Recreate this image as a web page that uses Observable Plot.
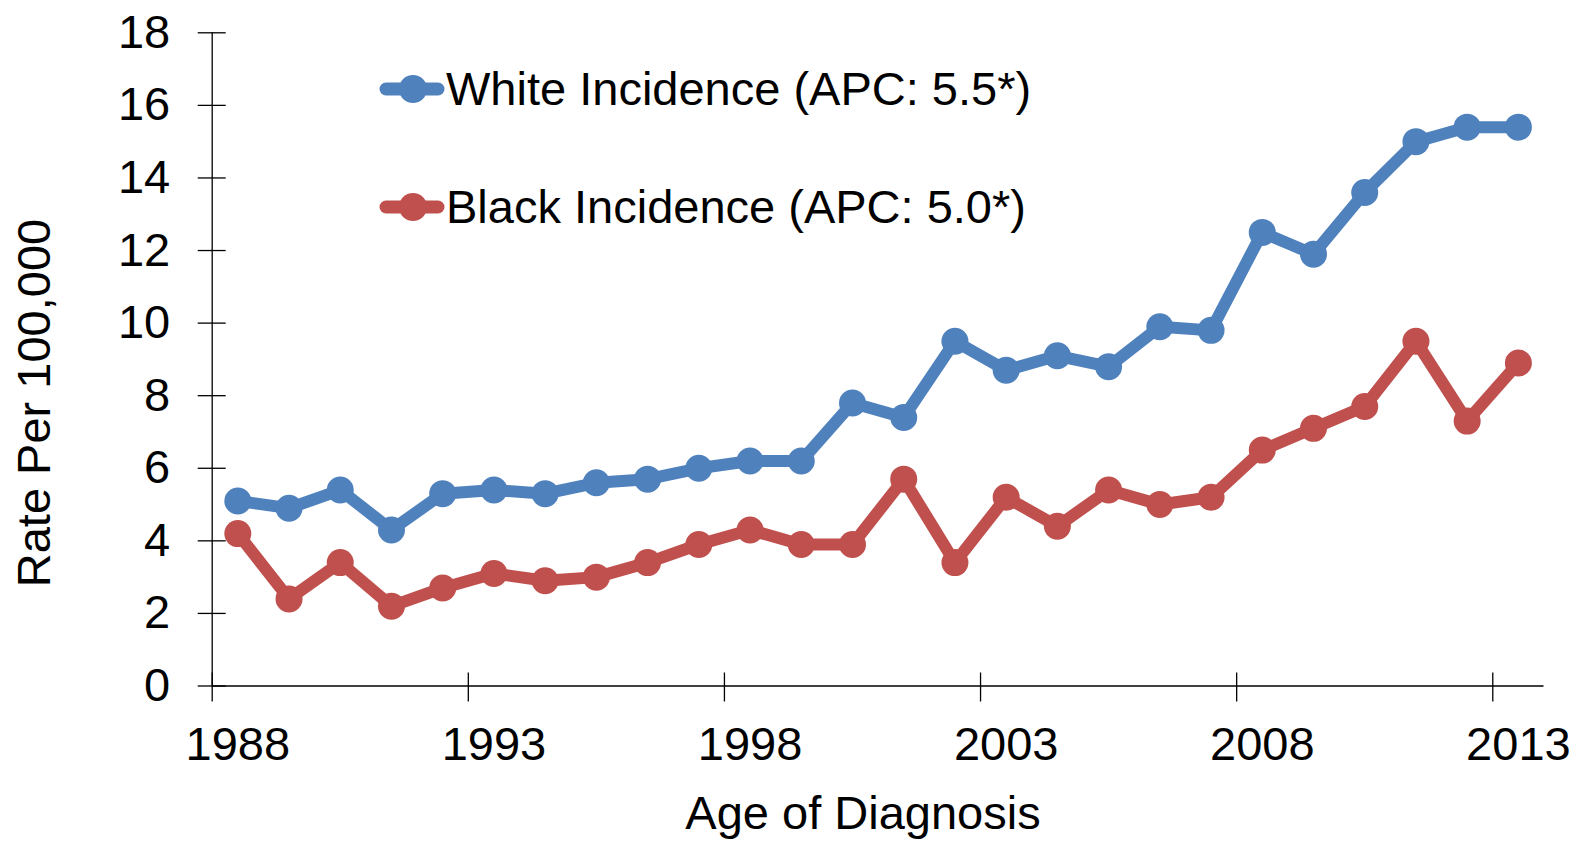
<!DOCTYPE html>
<html>
<head>
<meta charset="utf-8">
<script src="https://cdn.jsdelivr.net/npm/d3@7"></script>
<script src="https://cdn.jsdelivr.net/npm/@observablehq/plot@0.6"></script>
<style>
  html, body { margin: 0; padding: 0; background: #fff; }
  #chart { position: relative; width: 1575px; height: 842px; }
</style>
</head>
<body>
<div id="chart"></div>
<script>
const years = [1988,1989,1990,1991,1992,1993,1994,1995,1996,1997,1998,1999,2000,2001,2002,2003,2004,2005,2006,2007,2008,2009,2010,2011,2012,2013];
const whiteIncidence = [5.1,4.9,5.4,4.3,5.3,5.4,5.3,5.6,5.7,6.0,6.2,6.2,7.8,7.4,9.5,8.7,9.1,8.8,9.9,9.8,12.5,11.9,13.6,15.0,15.4,15.4];
const blackIncidence = [4.2,2.4,3.4,2.2,2.7,3.1,2.9,3.0,3.4,3.9,4.3,3.9,3.9,5.7,3.4,5.2,4.4,5.4,5.0,5.2,6.5,7.1,7.7,9.5,7.3,8.9];
const seriesNames = ["White Incidence (APC: 5.5*)", "Black Incidence (APC: 5.0*)"];
const seriesColors = ["#4F81BD", "#C0504D"];
const xTickYears = [1988,1993,1998,2003,2008,2013];
const yTicks = [0,2,4,6,8,10,12,14,16,18];
const xTitle = "Age of Diagnosis";
const yTitle = "Rate Per 100,000";

const white = years.map((y, i) => ({year: y, value: whiteIncidence[i]}));
const black = years.map((y, i) => ({year: y, value: blackIncidence[i]}));

const FONT = "'Liberation Sans', Arial, Helvetica, sans-serif";
const FS = 47;

const plot = Plot.plot({
  width: 1575,
  height: 842,
  marginLeft: 211.7,
  marginRight: 31.5,
  marginTop: 32.3,
  marginBottom: 156.5,
  style: {fontFamily: FONT, fontSize: FS + "px", background: "white", color: "black"},
  x: {type: "linear", domain: [1988, 2014], axis: null},
  y: {type: "linear", domain: [0, 18], axis: null},
  marks: [
    Plot.ruleY([0], {stroke: "black", strokeWidth: 1.3}),
    Plot.ruleX([1988], {stroke: "black", strokeWidth: 1.3}),
    Plot.ruleX(xTickYears, {x: d => d, y1: 0, y2: 0, insetTop: -13, insetBottom: -16, stroke: "black", strokeWidth: 1.3}),
    Plot.ruleY(yTicks, {y: d => d, x1: 1988, x2: 1988, insetLeft: -14, insetRight: -14, stroke: "black", strokeWidth: 1.3}),
    Plot.text(xTickYears, {x: d => d + 0.5, y: 0, text: d => String(d), dy: 41, lineAnchor: "top", textAnchor: "middle", fontSize: FS, fill: "black"}),
    Plot.text(yTicks, {x: 1988, y: d => d, text: d => String(d), dx: -42, textAnchor: "end", lineAnchor: "middle", fontSize: FS, fill: "black"}),
    Plot.line(black, {x: d => d.year + 0.5, y: "value", stroke: seriesColors[1], strokeWidth: 12, strokeLinejoin: "round", strokeLinecap: "round"}),
    Plot.dot(black, {x: d => d.year + 0.5, y: "value", r: 13.5, fill: seriesColors[1], stroke: "none"}),
    Plot.line(white, {x: d => d.year + 0.5, y: "value", stroke: seriesColors[0], strokeWidth: 12, strokeLinejoin: "round", strokeLinecap: "round"}),
    Plot.dot(white, {x: d => d.year + 0.5, y: "value", r: 13.5, fill: seriesColors[0], stroke: "none"})
  ]
});

document.getElementById("chart").appendChild(plot);

// Axis titles and legend (layout overlays)
const svg = d3.select(plot);
svg.append("text")
  .attr("transform", "translate(50,403) rotate(-90)")
  .attr("text-anchor", "middle")
  .style("font-family", FONT).style("font-size", FS + "px").attr("fill", "black")
  .text(yTitle);
svg.append("text")
  .attr("x", 863).attr("y", 829)
  .attr("text-anchor", "middle")
  .style("font-family", FONT).style("font-size", FS + "px").attr("fill", "black")
  .text(xTitle);

const legendRows = [89, 207];
seriesNames.forEach((name, i) => {
  const g = svg.append("g").attr("transform", `translate(0,${legendRows[i]})`);
  g.append("line").attr("x1", 386).attr("x2", 438).attr("y1", 0).attr("y2", 0)
    .attr("stroke", seriesColors[i]).attr("stroke-width", 13).attr("stroke-linecap", "round");
  g.append("circle").attr("cx", 413).attr("cy", 0).attr("r", 14).attr("fill", seriesColors[i]);
  g.append("text").attr("x", 446).attr("y", 15.5)
    .attr("text-anchor", "start")
    .style("font-family", FONT).style("font-size", FS + "px").attr("fill", "black")
    .text(name);
});
</script>
</body>
</html>
